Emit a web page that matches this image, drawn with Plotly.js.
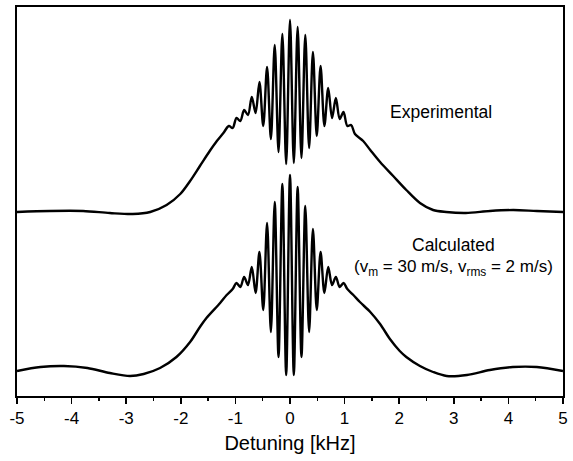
<!DOCTYPE html>
<html>
<head>
<meta charset="utf-8">
<script src="https://cdn.plot.ly/plotly-3.0.1.min.js"></script>
<style>html,body{margin:0;padding:0;background:#fff;}</style>
</head>
<body>
<div id="chart" style="width:573px;height:461px;"></div>
<script>
// Detuning values (kHz) and signal (arbitrary units)
const expDetuning = [-5.0, -4.40, -3.79, -3.30, -2.88, -2.56, -2.26, -2.01, -1.83, -1.65, -1.47, -1.34, -1.22,
  -1.12, -1.05, -0.98, -0.91, -0.84, -0.77, -0.70, -0.63, -0.56, -0.49, -0.42, -0.35, -0.28, -0.21, -0.14, -0.07,
  0, 0.07, 0.14, 0.21, 0.28, 0.35, 0.42, 0.49, 0.56, 0.63, 0.70, 0.77, 0.84, 0.91, 0.98, 1.05, 1.12, 1.19,
  1.34, 1.47, 1.65, 1.89, 2.13, 2.38, 2.62, 2.86, 3.22, 3.66, 4.09, 4.52, 5.0];
const expSignal = [184, 185, 185, 183, 182, 184, 191, 202, 215, 230, 245, 255, 263,
  270, 268, 278, 275, 286, 281, 299, 283, 314, 270, 329, 257, 351, 244, 362, 232,
  376, 233, 369, 238, 361, 248, 344, 260, 330, 270, 308, 278, 298, 277, 284, 270, 271, 262,
  255, 246, 234, 220, 206, 193, 186, 184, 183, 185, 186, 185, 184];

const calcDetuning = [-5.0, -4.57, -4.14, -3.71, -3.30, -2.93, -2.68, -2.38, -2.08, -1.83, -1.65, -1.53, -1.28, -1.16,
  -1.05, -0.98, -0.91, -0.84, -0.77, -0.70, -0.63, -0.56, -0.49, -0.42, -0.35, -0.28, -0.21, -0.14, -0.07,
  0, 0.07, 0.14, 0.21, 0.28, 0.35, 0.42, 0.49, 0.56, 0.63, 0.70, 0.77, 0.84, 0.91, 0.98, 1.05,
  1.16, 1.28, 1.47, 1.65, 1.83, 2.01, 2.13, 2.38, 2.62, 2.87, 3.24, 3.66, 4.08, 4.52, 5.0];
const calcSignal = [25, 29, 30, 28, 23, 20, 22, 28, 39, 54, 69, 78, 93, 101,
  107, 113, 109, 119, 111, 129, 103, 144, 86, 173, 64, 194, 39, 212, 21,
  221, 21, 209, 39, 190, 64, 167, 86, 144, 103, 129, 111, 119, 109, 113, 107,
  101, 94, 84, 72, 57, 45, 39, 30, 24, 20, 21, 26, 29, 29, 25];

const tickValues = [-5, -4, -3, -2, -1, 0, 1, 2, 3, 4, 5];
const tickLabels = ['-5', '-4', '-3', '-2', '-1', '0', '1', '2', '3', '4', '5'];

const lineStyle = {color: '#000', width: 2.4, shape: 'spline', smoothing: 0.9};
const traces = [
  {x: expDetuning, y: expSignal, type: 'scatter', mode: 'lines', line: lineStyle, name: 'Experimental', hoverinfo: 'skip'},
  {x: calcDetuning, y: calcSignal, type: 'scatter', mode: 'lines', line: lineStyle, name: 'Calculated', hoverinfo: 'skip'}
];

const font = {family: '"Liberation Sans", Arial, sans-serif', color: '#000'};
const layout = {
  width: 573, height: 461,
  margin: {l: 17, r: 10, t: 7, b: 65},
  paper_bgcolor: '#fff', plot_bgcolor: '#fff',
  showlegend: false,
  font: font,
  xaxis: {
    range: [-5, 5],
    tickmode: 'array', tickvals: tickValues, ticktext: tickLabels,
    ticks: 'outside', ticklen: 6, tickwidth: 1.6, tickcolor: '#000',
    minor: {dtick: 0.5, tick0: 0, ticks: 'outside', ticklen: 3, tickwidth: 1.3, tickcolor: '#000', showgrid: false},
    showline: true, linecolor: '#000', linewidth: 2, mirror: true,
    showgrid: false, zeroline: false,
    tickfont: {family: font.family, size: 17, color: '#000'},
    title: {text: 'Detuning [kHz]', font: {family: font.family, size: 20, color: '#000'}, standoff: 9}
  },
  yaxis: {
    range: [0, 389],
    showticklabels: false, ticks: '',
    showline: true, linecolor: '#000', linewidth: 2, mirror: true,
    showgrid: false, zeroline: false
  },
  annotations: [
    {x: 2.77, y: 284, xref: 'x', yref: 'y', text: 'Experimental', showarrow: false,
     font: {family: font.family, size: 17.5, color: '#000'}},
    {x: 3.0, y: 151, xref: 'x', yref: 'y', text: 'Calculated', showarrow: false,
     font: {family: font.family, size: 17.5, color: '#000'}},
    {x: 3.0, y: 128, xref: 'x', yref: 'y', text: '(v<sub>m</sub> = 30 m/s, v<sub>rms</sub> = 2 m/s)', showarrow: false,
     font: {family: font.family, size: 17, color: '#000'}}
  ]
};

Plotly.newPlot('chart', traces, layout, {staticPlot: true, displayModeBar: false});
</script>
</body>
</html>
